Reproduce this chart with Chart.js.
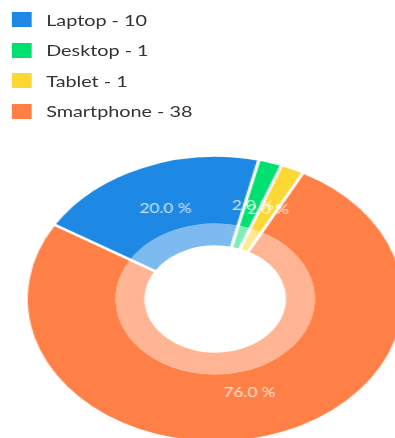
<!DOCTYPE html>
<html>
<head>
<meta charset="utf-8">
<script src="https://cdn.jsdelivr.net/npm/chart.js@4.4.1/dist/chart.umd.min.js"></script>
<style>
  html, body { margin: 0; padding: 0; background: #fff; width: 395px; height: 438px; overflow: hidden; }
  #stage { position: absolute; left: 0; top: 0; width: 300px; height: 438px; transform: scaleX(1.32); transform-origin: 0 0; }
  #legend { position: absolute; left: 9px; top: 12px; margin: 0; padding: 0; list-style: none; font-family: Lato, sans-serif; font-size: 15px; color: #333; }
  #legend li { display: flex; align-items: center; height: 15px; margin-bottom: 15.5px; }
  #legend span.box { display: inline-block; width: 15px; height: 15px; margin-right: 11px; }
  #devices { position: absolute; left: 0; top: 0; }
</style>
</head>
<body>
<div id="stage">
  <ul id="legend"></ul>
  <canvas id="devices" width="326" height="450"></canvas>
</div>
<script>
const categories = ['Laptop', 'Desktop', 'Tablet', 'Smartphone'];
const counts = [10, 1, 1, 38];
const colors = ['#1E88E5', '#00E070', '#FDD835', '#FF8047'];
const lightColors = ['rgba(30,136,229,0.58)', 'rgba(0,224,112,0.5)', 'rgba(253,216,53,0.55)', 'rgba(255,128,71,0.58)'];

// legend list
const legend = document.getElementById('legend');
categories.forEach((cat, i) => {
  const li = document.createElement('li');
  li.innerHTML = `<span class="box" style="background:${colors[i]}"></span>${cat} - ${counts[i]}`;
  legend.appendChild(li);
});

const total = counts.reduce((a, b) => a + b, 0);

// white gaps between slices + percentage labels
const sliceLabels = {
  id: 'sliceLabels',
  afterDatasetsDraw(chart) {
    const ctx = chart.ctx;
    const outer = chart.getDatasetMeta(0).data;
    const inner = chart.getDatasetMeta(1).data;
    ctx.save();
    ctx.strokeStyle = '#fff';
    ctx.lineWidth = 2.5;
    outer.forEach((arc, i) => {
      const a = arc.startAngle;
      const r0 = inner[i].innerRadius - 1;
      const r1 = arc.outerRadius + 1;
      ctx.beginPath();
      ctx.moveTo(arc.x + Math.cos(a) * r0, arc.y + Math.sin(a) * r0);
      ctx.lineTo(arc.x + Math.cos(a) * r1, arc.y + Math.sin(a) * r1);
      ctx.stroke();
    });
    ctx.font = '13px Lato, sans-serif';
    ctx.fillStyle = 'rgba(255,255,255,0.78)';
    ctx.textAlign = 'center';
    ctx.textBaseline = 'middle';
    outer.forEach((arc, i) => {
      const mid = (arc.startAngle + arc.endAngle) / 2;
      const r = (inner[i].innerRadius + arc.outerRadius) / 2;
      const pct = (counts[i] / total * 100).toFixed(1) + ' %';
      ctx.fillText(pct, arc.x + Math.cos(mid) * r, arc.y + Math.sin(mid) * r);
    });
    ctx.restore();
  }
};

new Chart(document.getElementById('devices'), {
  type: 'doughnut',
  data: {
    labels: categories,
    datasets: [
      { data: counts, backgroundColor: colors, borderWidth: 0, hoverOffset: 0, weight: 64 },
      { data: counts, backgroundColor: lightColors, borderWidth: 0, hoverOffset: 0, weight: 21 }
    ]
  },
  options: {
    responsive: false,
    animation: false,
    radius: 142,
    cutout: 57,
    rotation: -58.6,
    layout: { padding: { top: 148, bottom: 0, left: 0, right: 0 } },
    plugins: { legend: { display: false }, tooltip: { enabled: false } }
  },
  plugins: [sliceLabels]
});
</script>
</body>
</html>
